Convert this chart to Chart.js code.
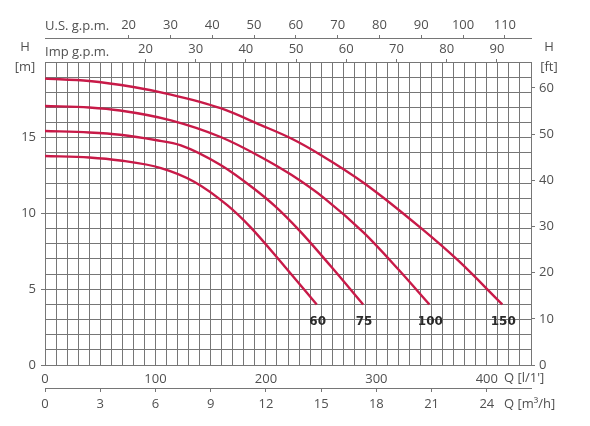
<!DOCTYPE html>
<html>
<head>
<meta charset="utf-8">
<script src="https://cdn.jsdelivr.net/npm/chart.js@4.4.1/dist/chart.umd.min.js"></script>
<style>
  body { margin: 0; background: #fff; }
  #wrap { width: 590px; height: 426px; position: relative; }
</style>
</head>
<body>
<div id="wrap"><canvas id="pumpChart"></canvas></div>
<script>
// flow Q in l/min, head H in m
const qFlow60 = [0, 40, 68, 105, 135, 165, 186, 217, 246];
const head60 = [13.8, 13.7, 13.5, 13.0, 12.1, 10.55, 9.1, 6.5, 4.0];

const qFlow75 = [0, 40, 68, 100, 123, 159, 189, 208, 230, 259, 288];
const head75 = [15.45, 15.35, 15.2, 14.85, 14.5, 13.2, 11.65, 10.5, 8.9, 6.5, 4.0];

const qFlow100 = [0, 40, 68, 114, 159, 195, 223, 253, 289, 320, 348];
const head100 = [17.1, 17.0, 16.8, 16.15, 15.05, 13.75, 12.55, 11.0, 8.7, 6.3, 4.0];

const qFlow150 = [0, 40, 80, 114, 159, 195, 223, 250, 289, 341, 374, 414];
const head150 = [18.9, 18.75, 18.35, 17.85, 16.95, 15.85, 14.95, 13.85, 12.0, 9.0, 6.9, 4.0];

const curveNames = ['60', '75', '100', '150'];

// tick labels of the secondary scales
const usGpmTicks = [20, 30, 40, 50, 60, 70, 80, 90, 100, 110];
const impGpmTicks = [20, 30, 40, 50, 60, 70, 80, 90];
const m3hTicks = [0, 3, 6, 9, 12, 15, 18, 21, 24];
const feetTicks = [0, 10, 20, 30, 40, 50, 60];

const Q_MAX = 440, H_MAX = 20;
const LPM_PER_USGPM = 3.785, LPM_PER_IMPGPM = 4.546, LPM_PER_M3H = 1000 / 60, M_PER_FT = 0.3048;

const textColor = '#505050';
const gridColor = '#767676';
const curveColor = '#c81a48';
const baseFont = { family: "'Open Sans', 'Noto Sans', sans-serif", size: 13 };

function toPoints(xs, ys) {
    return xs.map((x, i) => ({ x: x, y: ys[i] }));
}

const curves = [
    toPoints(qFlow60, head60),
    toPoints(qFlow75, head75),
    toPoints(qFlow100, head100),
    toPoints(qFlow150, head150)
];

// titles of the axes + the names at the end of each curve
const labelPlugin = {
    id: 'pumpLabels',
    afterDraw(chart) {
        const ctx = chart.ctx;
        const area = chart.chartArea;
        ctx.save();
        ctx.fillStyle = textColor;
        ctx.font = "13px 'Open Sans', 'Noto Sans', sans-serif";
        ctx.textBaseline = 'middle';
        ctx.textAlign = 'left';
        ctx.fillText('U.S. g.p.m.', area.left, 26);
        ctx.fillText('Imp g.p.m.', area.left, 52);
        ctx.fillText("Q [l/1']", 504, 378);
        ctx.fillText('Q [m³/h]', 504, 404);
        ctx.textAlign = 'center';
        ctx.fillText('H', 25, 47);
        ctx.fillText('[m]', 25, 67);
        ctx.fillText('H', 549, 47);
        ctx.fillText('[ft]', 549, 67);

        ctx.fillStyle = '#2a2a2a';
        ctx.font = "bold 12px 'DejaVu Sans', sans-serif";
        chart.data.datasets.forEach((ds, i) => {
            const pts = chart.getDatasetMeta(i).data;
            const last = pts[pts.length - 1];
            ctx.fillText(curveNames[i], last.x + 1, last.y + 17);
        });
        ctx.restore();
    }
};

new Chart(document.getElementById('pumpChart'), {
    type: 'scatter',
    data: {
        datasets: curves.map((pts, i) => ({
            label: curveNames[i],
            data: pts,
            showLine: true,
            borderColor: curveColor,
            borderWidth: 2.4,
            pointRadius: 0,
            cubicInterpolationMode: 'monotone',
            fill: false
        }))
    },
    options: {
        responsive: true,
        maintainAspectRatio: false,
        animation: false,
        layout: { padding: 0 },
        plugins: { legend: { display: false }, tooltip: { enabled: false } },
        scales: {
            x: {
                type: 'linear', position: 'bottom', weight: 0,
                min: 0, max: Q_MAX,
                afterFit: s => { s.height = 23; },
                ticks: {
                    stepSize: 10, autoSkip: false, maxRotation: 0, padding: 6,
                    color: textColor, font: baseFont,
                    callback: v => (v % 100 === 0 ? v : '')
                },
                grid: { color: gridColor, lineWidth: 1, drawTicks: false },
                border: { color: gridColor }
            },
            xM3: {
                type: 'linear', position: 'bottom', weight: 1,
                min: 0, max: Q_MAX / LPM_PER_M3H,
                afterFit: s => { s.height = 38; },
                afterBuildTicks: s => { s.ticks = m3hTicks.map(v => ({ value: v })); },
                ticks: { autoSkip: false, maxRotation: 0, padding: 4, color: textColor, font: baseFont },
                grid: { drawOnChartArea: false, tickLength: 4, color: gridColor },
                border: { display: true, color: gridColor }
            },
            xImp: {
                type: 'linear', position: 'top', weight: 0,
                min: 0, max: Q_MAX / LPM_PER_IMPGPM,
                afterFit: s => { s.height = 24; },
                afterBuildTicks: s => { s.ticks = impGpmTicks.map(v => ({ value: v })); },
                ticks: { autoSkip: false, maxRotation: 0, padding: 2, color: textColor, font: baseFont },
                grid: { drawOnChartArea: false, tickLength: 3, color: gridColor },
                border: { display: false }
            },
            xUS: {
                type: 'linear', position: 'top', weight: 1,
                min: 0, max: Q_MAX / LPM_PER_USGPM,
                afterFit: s => { s.height = 38; },
                afterBuildTicks: s => { s.ticks = usGpmTicks.map(v => ({ value: v })); },
                ticks: { autoSkip: false, maxRotation: 0, padding: 2, color: textColor, font: baseFont },
                grid: { drawOnChartArea: false, tickLength: 3, color: gridColor },
                border: { display: true, color: gridColor }
            },
            y: {
                type: 'linear', position: 'left',
                min: 0, max: H_MAX,
                afterFit: s => { s.width = 45; },
                ticks: {
                    stepSize: 1, autoSkip: false, padding: 5,
                    color: textColor, font: baseFont,
                    callback: v => (v % 5 === 0 && v < H_MAX ? v : '')
                },
                grid: {
                    color: gridColor, lineWidth: 1, tickLength: 4,
                    tickColor: c => (c.tick && c.tick.value % 5 === 0 && c.tick.value < H_MAX ? gridColor : 'rgba(0,0,0,0)')
                },
                border: { color: gridColor }
            },
            yFt: {
                type: 'linear', position: 'right',
                min: 0, max: H_MAX / M_PER_FT,
                afterFit: s => { s.width = 59; },
                afterBuildTicks: s => { s.ticks = feetTicks.map(v => ({ value: v })); },
                ticks: { autoSkip: false, padding: 4, color: textColor, font: baseFont },
                grid: { drawOnChartArea: false, tickLength: 4, color: gridColor },
                border: { display: true, color: gridColor }
            }
        }
    },
    plugins: [labelPlugin]
});
</script>
</body>
</html>
